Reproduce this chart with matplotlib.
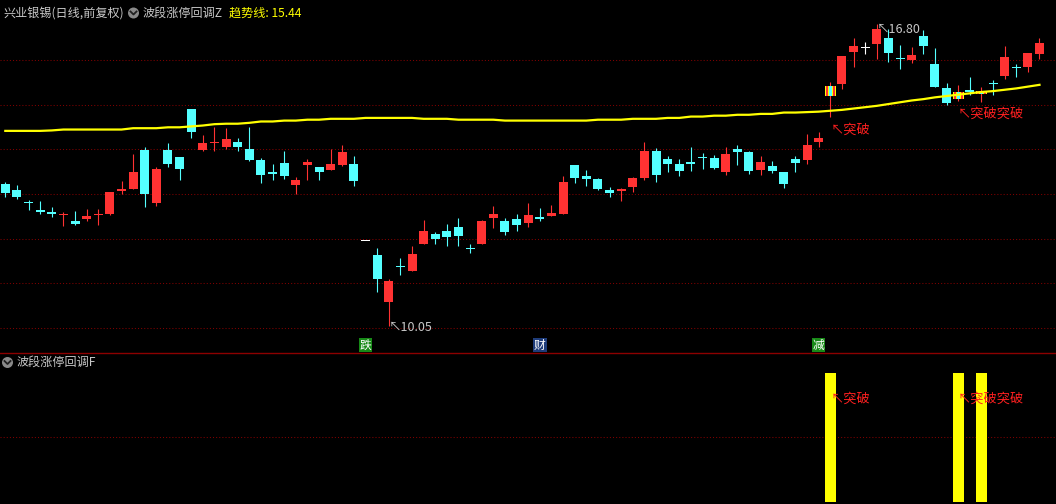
import numpy as np
import matplotlib
matplotlib.use('Agg')
import matplotlib.pyplot as plt
from matplotlib.patches import Rectangle, Ellipse
from matplotlib.lines import Line2D

plt.rcParams['font.family'] = ['Noto Sans CJK SC', 'DejaVu Sans']

# daily candles (price in yuan)
opens = [13.22, 13.09, 12.83, 12.64, 12.58, 12.53, 12.39, 12.44, 12.53, 12.55,
         13.06, 13.11, 13.98, 12.80, 13.98, 13.83, 14.90, 13.98, 14.14, 14.05,
         14.15, 14.00, 13.76, 13.48, 13.69, 13.20, 13.65, 13.60, 13.53, 13.65,
         13.67, 11.94, 11.63, 10.58, 11.39, 11.28, 11.88, 12.10, 12.17, 12.26,
         11.79, 11.88, 12.46, 12.39, 12.44, 12.35, 12.48, 12.51, 12.55, 13.65,
         13.40, 13.33, 13.09, 13.06, 13.15, 13.36, 13.96, 13.78, 13.67, 13.69,
         13.83, 13.80, 13.49, 14.00, 13.94, 13.53, 13.62, 13.49, 13.78, 13.76,
         14.16, 15.18, 15.46, 16.17, 16.27, 16.35, 16.49, 16.04, 16.00, 16.53,
         15.91, 15.37, 15.12, 15.32, 15.23, 15.47, 15.64, 15.84, 15.84, 16.13]
highs = [13.27, 13.19, 12.86, 12.84, 12.70, 12.60, 12.62, 12.66, 12.66, 13.04,
         13.29, 13.89, 14.05, 13.60, 14.14, 13.83, 14.90, 14.32, 14.50, 14.48,
         14.26, 14.50, 13.80, 13.67, 13.96, 13.38, 13.78, 13.60, 14.00, 14.09,
         13.85, 11.94, 11.79, 11.10, 11.57, 11.83, 12.42, 12.15, 12.33, 12.46,
         11.88, 12.42, 12.73, 12.46, 12.55, 12.80, 12.68, 12.75, 13.40, 13.65,
         13.53, 13.36, 13.15, 13.13, 13.38, 14.16, 14.03, 13.85, 13.78, 14.05,
         13.91, 13.87, 14.05, 14.09, 13.96, 13.85, 13.74, 13.49, 13.85, 14.34,
         14.38, 15.50, 16.08, 16.49, 16.40, 16.80, 16.69, 16.33, 16.29, 16.67,
         16.26, 15.48, 15.44, 15.62, 15.39, 15.55, 16.31, 15.91, 16.15, 16.49]
lows = [12.94, 12.89, 12.64, 12.54, 12.49, 12.29, 12.30, 12.39, 12.30, 12.53,
        13.00, 13.11, 12.71, 12.73, 13.60, 13.31, 14.26, 13.96, 13.96, 14.01,
        13.97, 13.74, 13.24, 13.31, 13.33, 13.00, 13.31, 13.31, 13.53, 13.62,
        13.18, 11.94, 10.81, 10.05, 11.19, 11.28, 11.88, 11.88, 11.83, 11.83,
        11.68, 11.88, 12.24, 12.08, 12.17, 12.26, 12.39, 12.51, 12.55, 13.24,
        13.18, 13.09, 12.93, 12.84, 13.04, 13.31, 13.27, 13.49, 13.40, 13.51,
        13.56, 13.56, 13.42, 13.65, 13.45, 13.42, 13.47, 13.13, 13.49, 13.67,
        14.05, 14.72, 15.35, 15.84, 16.13, 16.01, 15.95, 15.79, 15.93, 16.13,
        15.39, 14.99, 15.08, 15.21, 15.06, 15.21, 15.57, 15.62, 15.73, 16.02]
closes = [13.03, 12.94, 12.79, 12.60, 12.56, 12.55, 12.33, 12.51, 12.56, 13.04,
          13.11, 13.49, 13.00, 13.56, 13.67, 13.56, 14.39, 14.14, 14.16, 14.23,
          14.05, 13.76, 13.42, 13.45, 13.40, 13.31, 13.71, 13.49, 13.67, 13.94,
          13.29, 11.94, 11.10, 11.05, 11.36, 11.66, 12.17, 11.99, 12.04, 12.06,
          11.77, 12.39, 12.55, 12.15, 12.30, 12.53, 12.44, 12.57, 13.27, 13.36,
          13.33, 13.11, 13.02, 13.11, 13.36, 13.96, 13.42, 13.67, 13.51, 13.68,
          13.81, 13.58, 13.89, 13.94, 13.51, 13.71, 13.51, 13.22, 13.69, 14.09,
          14.25, 15.41, 16.08, 16.31, 16.27, 16.69, 16.15, 16.02, 16.11, 16.31,
          15.39, 15.03, 15.28, 15.29, 15.30, 15.45, 16.06, 15.82, 16.15, 16.38]

# trend line (趋势线)
trend = [14.41, 14.41, 14.41, 14.41, 14.42, 14.44, 14.44, 14.44, 14.44, 14.44,
         14.44, 14.47, 14.47, 14.47, 14.49, 14.49, 14.51, 14.53, 14.56, 14.57,
         14.57, 14.59, 14.62, 14.62, 14.64, 14.64, 14.66, 14.66, 14.68, 14.68,
         14.68, 14.70, 14.70, 14.70, 14.70, 14.70, 14.68, 14.68, 14.68, 14.66,
         14.66, 14.66, 14.66, 14.64, 14.64, 14.64, 14.64, 14.64, 14.64, 14.64,
         14.64, 14.66, 14.66, 14.66, 14.68, 14.68, 14.68, 14.70, 14.70, 14.73,
         14.73, 14.75, 14.75, 14.77, 14.77, 14.79, 14.79, 14.82, 14.82, 14.83,
         14.84, 14.86, 14.88, 14.91, 14.94, 14.97, 15.01, 15.05, 15.09, 15.12,
         15.16, 15.19, 15.22, 15.25, 15.28, 15.30, 15.33, 15.36, 15.40, 15.44]

# breakout signals (突破) and event tags on the date strip
signal_idx = [71, 82, 84]
signal_val = [1, 1, 1]
event_idx = [31, 46, 70]
event_txt = ['跌', '财', '减']
event_bg = ['#178a17', '#1e3c7a', '#178a17']
hi_idx, hi_txt = 75, '16.80'
lo_idx, lo_txt = 33, '10.05'

W, H = 1056, 504
UP, DOWN, FLAT = '#ff3232', '#54ffff', '#ffffff'
YEL = '#ffff00'
GRID = '#800000'
px = 1 / 11.62          # one pixel in candle-index units
xlim = (-0.456, 90.42)

fig = plt.figure(figsize=(W / 100, H / 100), dpi=100, facecolor='black')
ax = fig.add_axes([0, 151 / H, 1, 353 / H])
ax2 = fig.add_axes([0, 0, 1, 151 / H])
for a in (ax, ax2):
    a.set_facecolor('black')
    a.set_xlim(*xlim)
    a.axis('off')
ax.set_ylim(9.4407, 17.338)
ax2.set_ylim(-0.0155, 1.155)

# dotted grid
for p in range(10, 17):
    ax.axhline(p, color=GRID, lw=0.75, ls=(0, (1, 2)), zorder=0)
ax2.axhline(0.5, color=GRID, lw=0.75, ls=(0, (1, 2)), zorder=0)
fig.add_artist(Line2D([0, 1], [151 / H, 151 / H], color='#8c0000', lw=1,
                      transform=fig.transFigure))

# candles
stripes = [(-5.5, 1, YEL), (-4.5, 2, UP), (-2.5, 1, YEL), (-1.5, 3, DOWN),
           (1.5, 1, YEL), (2.5, 2, UP), (4.5, 1, YEL)]
for i in range(len(opens)):
    o, h, l, c = opens[i], highs[i], lows[i], closes[i]
    col = UP if c > o else (DOWN if c < o else FLAT)
    bottom = min(o, c)
    height = max(abs(c - o), 0.024)
    if i in signal_idx:
        ax.vlines(i, l, h, color=UP, lw=0.8, zorder=2)
        for off, w, sc in stripes:
            ax.add_patch(Rectangle((i + off * px, bottom), w * px, height,
                                   facecolor=sc, lw=0, zorder=3))
        continue
    ax.vlines(i, l, h, color=col, lw=0.8, zorder=2)
    ax.bar(i, height, bottom=bottom, width=9 * px, color=col, lw=0, zorder=3)

ax.plot(range(len(trend)), trend, color=YEL, lw=1.6, zorder=4)

# high / low marks
ax.annotate('↖' + hi_txt, (hi_idx, highs[hi_idx]), xytext=(0, -5),
            textcoords='offset pixels', color='#c8c8c8', fontsize=9,
            ha='left', va='center', zorder=5)
ax.annotate('↖' + lo_txt, (lo_idx, lows[lo_idx]), xytext=(0, -2),
            textcoords='offset pixels', color='#c8c8c8', fontsize=9,
            ha='left', va='center', zorder=5)

# breakout labels: signals two candles apart run together as one label
groups = []
for i in signal_idx:
    if groups and i - groups[-1][-1] <= 2:
        groups[-1].append(i)
    else:
        groups.append([i])
for g in groups:
    label = '↖' + '突破' * len(g)
    ax.annotate(label, (g[0], lows[g[0]]), xytext=(0, -13),
                textcoords='offset pixels', color='#ff2020', fontsize=9.5,
                ha='left', va='center', zorder=5)
    ax2.text(g[0], 0.80, label, color='#ff2020', fontsize=9.5,
             ha='left', va='center', zorder=5)

ax2.bar(signal_idx, signal_val, width=11 * px, color=YEL, lw=0, zorder=2)

# event tags on date strip
for i, t, bg in zip(event_idx, event_txt, event_bg):
    ax.text(i, 9.62, t, color='white', fontsize=8.5, ha='center', va='center',
            bbox=dict(facecolor=bg, edgecolor='none', pad=0.6), zorder=5)


def icon(x, y):
    fig.add_artist(Ellipse((x / W, 1 - y / H), 11 / W, 11 / H,
                           transform=fig.transFigure,
                           facecolor='#8a8a8a', edgecolor='none'))
    fig.add_artist(Line2D([(x - 3) / W, x / W, (x + 3) / W],
                          [1 - (y - 1.5) / H, 1 - (y + 1.5) / H, 1 - (y - 1.5) / H],
                          color='#202020', lw=1.3, transform=fig.transFigure))


# headers
fig.text(3 / W, 1 - 13 / H, '兴业银锡(日线,前复权)', color='#c8c8c8',
         fontsize=8.7, ha='left', va='center')
icon(133.5, 13)
fig.text(143 / W, 1 - 13 / H, '波段涨停回调Z', color='#c8c8c8',
         fontsize=8.7, ha='left', va='center')
fig.text(229 / W, 1 - 13 / H, '趋势线: %.2f' % trend[-1], color=YEL,
         fontsize=8.7, ha='left', va='center')
icon(7.5, 362.5)
fig.text(17 / W, 1 - 362.5 / H, '波段涨停回调F', color='#c8c8c8',
         fontsize=8.7, ha='left', va='center')

fig.savefig('out.png', dpi=100, facecolor='black')
